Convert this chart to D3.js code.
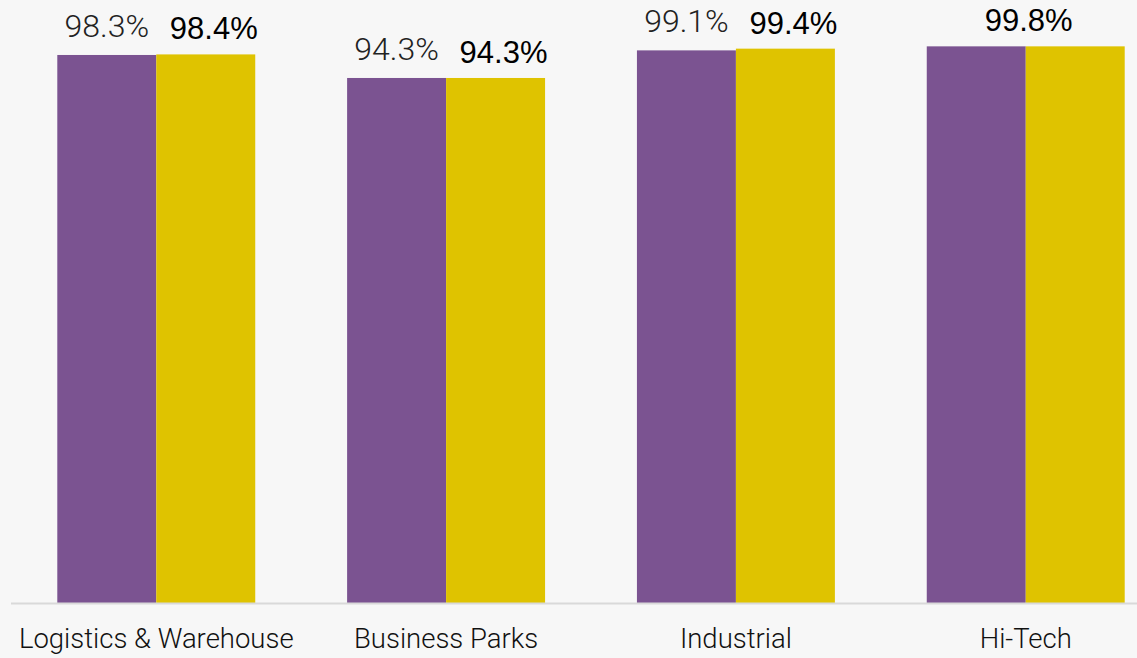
<!DOCTYPE html>
<html>
<head>
<meta charset="utf-8">
<script src="https://cdn.jsdelivr.net/npm/d3@7"></script>
<style>
  html, body { margin: 0; padding: 0; background: #f7f7f7; }
  svg { display: block; }
</style>
</head>
<body>
<div id="chart"></div>
<script>
// categories and the two series (occupancy %)
const categories = ["Logistics & Warehouse", "Business Parks", "Industrial", "Hi-Tech"];
const seriesA = [98.3, 94.3, 99.1, 99.8];   // purple
const seriesB = [98.4, 94.3, 99.4, 99.8];   // yellow
// labels shown above bars (Hi-Tech purple label hidden behind the yellow one)
const labelsA = ["98.3%", "94.3%", "99.1%", null];
const labelsB = ["98.4%", "94.3%", "99.4%", "99.8%"];

const width = 1137, height = 658;
const baseY = 603;

let svg = d3.select("#chart").append("svg")
  .attr("width", width)
  .attr("height", height);

svg.append("rect").attr("width", width).attr("height", height).attr("fill", "#f7f7f7");

//x scale for groups
let xScale = d3.scaleBand()
  .domain(categories)
  .range([11.5, 1170.5])
  .paddingInner(0.317)
  .paddingOuter(0.158);
let xSub = d3.scaleBand()
  .domain(["a", "b"])
  .range([0, xScale.bandwidth()]);

//y scale (value axis does not start at zero in the original)
let yScale = d3.scaleLinear()
  .domain([3, 100])
  .range([baseY, 45.2]);

let data = categories.map((c, i) => ({cat: c, a: seriesA[i], b: seriesB[i], la: labelsA[i], lb: labelsB[i]}));

let groups = svg.selectAll("g.grp").data(data).enter().append("g")
  .attr("class", "grp")
  .attr("transform", d => "translate(" + xScale(d.cat) + ",0)");

groups.append("rect")
  .attr("x", xSub("a"))
  .attr("width", xSub.bandwidth())
  .attr("y", d => yScale(d.a))
  .attr("height", d => baseY - yScale(d.a))
  .attr("fill", "#7b5391");

groups.append("rect")
  .attr("x", xSub("b"))
  .attr("width", xSub.bandwidth())
  .attr("y", d => yScale(d.b))
  .attr("height", d => baseY - yScale(d.b))
  .attr("fill", "#dfc300");

//value labels
groups.filter(d => d.la).append("text")
  .attr("x", xSub("a") + xSub.bandwidth() / 2)
  .attr("y", d => yScale(d.a) - 18)
  .attr("text-anchor", "middle")
  .style("font-family", "Roboto, sans-serif")
  .style("font-weight", 300)
  .style("font-size", "32px")
  .style("fill", "#222")
  .text(d => d.la);

groups.append("text")
  .attr("x", d => d.la ? xSub("b") + xSub.bandwidth() / 2 + 8 : xSub.bandwidth() + 3)
  .attr("y", d => yScale(d.b) - 15)
  .attr("text-anchor", "middle")
  .style("font-family", "'Liberation Sans', Arial, sans-serif")
  .style("font-size", "31px")
  .style("fill", "#000")
  .text(d => d.lb);

//baseline
svg.append("line")
  .attr("x1", 11).attr("x2", width)
  .attr("y1", baseY + 0.5).attr("y2", baseY + 0.5)
  .attr("stroke", "#d9d9d9")
  .attr("stroke-width", 2);

//category labels
svg.selectAll("text.cat").data(categories).enter().append("text")
  .attr("class", "cat")
  .attr("x", d => xScale(d) + xScale.bandwidth() / 2)
  .attr("y", 648)
  .attr("text-anchor", "middle")
  .style("font-family", "Roboto, sans-serif")
  .style("font-weight", 300)
  .style("font-size", "27.5px")
  .style("fill", "#111")
  .text(d => d);
</script>
</body>
</html>
